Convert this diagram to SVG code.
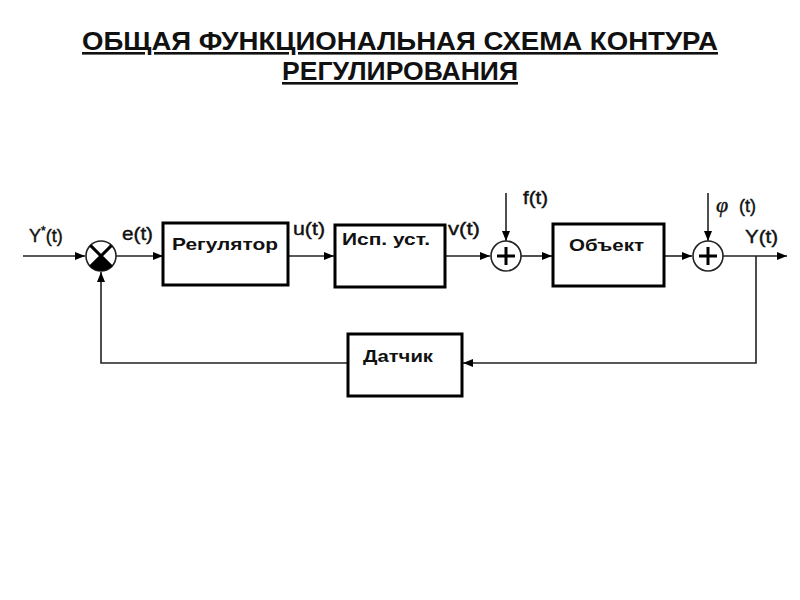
<svg xmlns="http://www.w3.org/2000/svg" width="800" height="600" viewBox="0 0 800 600">
<style>
.t{font-family:"Liberation Sans",Arial,sans-serif;font-weight:bold;fill:#111}
.title{font-size:26px;text-decoration:underline}
.lbl{font-size:18px;font-weight:normal;stroke:#111;stroke-width:0.4}
.blk{font-size:17px}
.box{fill:#fff;stroke:#000;stroke-width:3}
.ln{fill:none;stroke:#222;stroke-width:1.6}
.sum{fill:#fff;stroke:#222;stroke-width:1.6}
.plus{stroke:#000;stroke-width:3}
</style>
<defs>
<marker id="ar" viewBox="0 0 10 8" refX="10" refY="4" markerWidth="10" markerHeight="8" markerUnits="userSpaceOnUse" orient="auto">
<path d="M0,0 L10,4 L0,8 Z" fill="#000"/>
</marker>
</defs>
<rect width="800" height="600" fill="#fff"/>
<g id="title">
<text class="t title" x="82" y="50" textLength="636" lengthAdjust="spacingAndGlyphs">ОБЩАЯ  ФУНКЦИОНАЛЬНАЯ  СХЕМА  КОНТУРА</text>
<text class="t title" x="282" y="80" textLength="236" lengthAdjust="spacingAndGlyphs">РЕГУЛИРОВАНИЯ</text>
</g>
<g id="connectors">
<path class="ln" d="M23,256 H85" marker-end="url(#ar)"/>
<path class="ln" d="M116,256 H163" marker-end="url(#ar)"/>
<path class="ln" d="M288,256 H334" marker-end="url(#ar)"/>
<path class="ln" d="M445,256 H490" marker-end="url(#ar)"/>
<path class="ln" d="M506,193 V241" marker-end="url(#ar)"/>
<path class="ln" d="M521,256 H552" marker-end="url(#ar)"/>
<path class="ln" d="M664,256 H692" marker-end="url(#ar)"/>
<path class="ln" d="M708,193 V241" marker-end="url(#ar)"/>
<path class="ln" d="M723,256 H787" marker-end="url(#ar)"/>
<path class="ln" d="M756,256 V363 H463" marker-end="url(#ar)"/>
<path class="ln" d="M348,363 H101 V272" marker-end="url(#ar)"/>
</g>
<g id="comparator">
<circle class="sum" cx="101" cy="256" r="15"/>
<path d="M101,256 L111.6,266.6 A15,15 0 0 1 90.4,266.6 Z" fill="#000"/>
<path d="M90.4,245.4 L111.6,266.6 M111.6,245.4 L90.4,266.6" stroke="#000" stroke-width="3"/>
</g>
<g id="regulator">
<rect class="box" x="163" y="223" width="125" height="62"/>
<text class="t blk" x="172" y="250" textLength="106" lengthAdjust="spacingAndGlyphs">Регулятор</text>
</g>
<g id="actuator">
<rect class="box" x="335" y="225" width="110" height="62"/>
<text class="t blk" x="342" y="245" textLength="88" lengthAdjust="spacingAndGlyphs">Исп. уст.</text>
</g>
<g id="sum1">
<circle class="sum" cx="506" cy="256" r="15"/>
<path class="plus" d="M497,256 H515 M506,247 V265"/>
</g>
<g id="object">
<rect class="box" x="553" y="224" width="111" height="62"/>
<text class="t blk" x="569" y="251" textLength="75" lengthAdjust="spacingAndGlyphs">Объект</text>
</g>
<g id="sum2">
<circle class="sum" cx="708" cy="256" r="15"/>
<path class="plus" d="M699,256 H717 M708,247 V265"/>
</g>
<g id="sensor">
<rect class="box" x="348" y="334" width="114" height="62"/>
<text class="t blk" x="363" y="362" textLength="70" lengthAdjust="spacingAndGlyphs">Датчик</text>
</g>
<g id="labels">
<text class="t lbl" x="29" y="242">Y<tspan font-size="12" dy="-7">*</tspan><tspan dy="7">(t)</tspan></text>
<text class="t lbl" x="122" y="240" textLength="31" lengthAdjust="spacingAndGlyphs">e(t)</text>
<text class="t lbl" x="293" y="235" textLength="32" lengthAdjust="spacingAndGlyphs">u(t)</text>
<text class="t lbl" x="448" y="235" textLength="32" lengthAdjust="spacingAndGlyphs">v(t)</text>
<text class="t lbl" x="523" y="204" textLength="25" lengthAdjust="spacingAndGlyphs">f(t)</text>
<text class="t lbl" x="716" y="212"><tspan font-family="'Liberation Serif',serif" font-style="italic" font-size="22">φ</tspan><tspan x="739">(t)</tspan></text>
<text class="t lbl" x="745" y="243" textLength="33" lengthAdjust="spacingAndGlyphs">Y(t)</text>
</g>
</svg>
